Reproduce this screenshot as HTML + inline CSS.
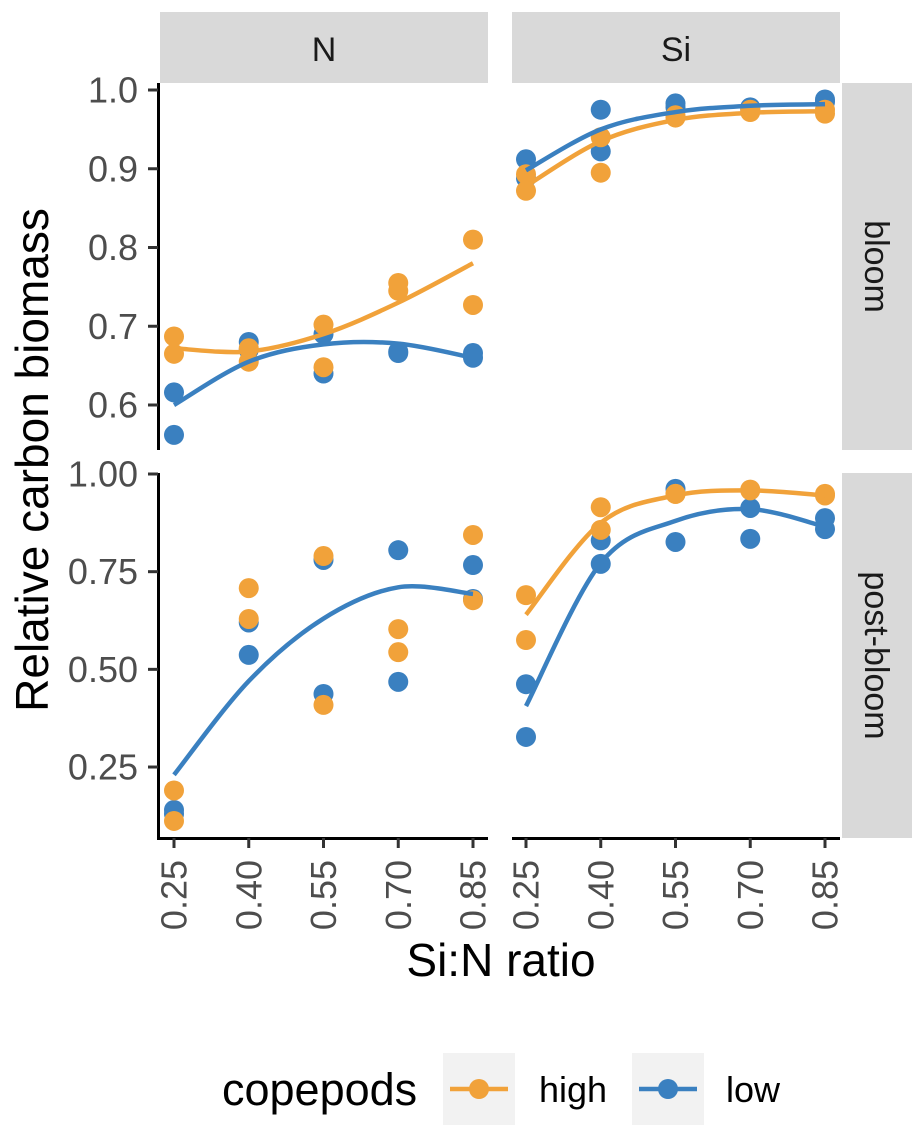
<!DOCTYPE html>
<html><head><meta charset="utf-8"><style>
html,body{margin:0;padding:0;background:#fff;}
svg{display:block;font-family:"Liberation Sans",Arial,sans-serif;}
</style></head><body>
<svg id="chart" width="924" height="1132" viewBox="0 0 924 1132" xmlns="http://www.w3.org/2000/svg">
<g id="bg"></g>
<g id="marks"></g>
<g id="axes"></g>
</svg>
<script>
// ---- data ----
const xCats = [0.25, 0.40, 0.55, 0.70, 0.85];
const xTickLabels = ["0.25","0.40","0.55","0.70","0.85"];
const topTicks = [0.6, 0.7, 0.8, 0.9, 1.0];
const topTickLabels = ["0.6","0.7","0.8","0.9","1.0"];
const botTicks = [0.25, 0.50, 0.75, 1.00];
const botTickLabels = ["0.25","0.50","0.75","1.00"];
const bloomN_high = [[0.687,0.665],[0.672,0.655],[0.702,0.648],[0.755,0.745],[0.81,0.727]];
const bloomN_low  = [[0.616,0.562],[0.68,0.67],[0.69,0.64],[0.668,0.666],[0.666,0.66]];
const bloomSi_high = [[0.893,0.872],[0.94,0.895],[0.965,0.968],[0.972,0.975],[0.97,0.975]];
const bloomSi_low  = [[0.912,0.888],[0.975,0.922],[0.983,0.978],[0.978,0.975],[0.988,0.985]];
const postN_high = [[0.19,0.112],[0.708,0.629],[0.79,0.409],[0.603,0.544],[0.844,0.677]];
const postN_low  = [[0.14,0.13],[0.62,0.537],[0.78,0.437],[0.805,0.468],[0.767,0.68]];
const postSi_high = [[0.69,0.575],[0.915,0.857],[0.949,0.949],[0.96,0.958],[0.949,0.945]];
const postSi_low  = [[0.462,0.327],[0.83,0.77],[0.962,0.826],[0.913,0.834],[0.887,0.859]];
const fitBloomN_high = [0.672,0.668,0.690,0.730,0.780];
const fitBloomN_low  = [0.600,0.655,0.677,0.678,0.660];
const fitBloomSi_high = [0.878,0.935,0.962,0.971,0.973];
const fitBloomSi_low  = [0.898,0.950,0.972,0.980,0.982];
const fitPostN_low = [0.23,0.47,0.63,0.71,0.693];
const fitPostSi_high = [0.64,0.875,0.945,0.958,0.945];
const fitPostSi_low  = [0.406,0.772,0.88,0.91,0.865];

const ORANGE="#F1A23A", BLUE="#3A80C0";
const NS="http://www.w3.org/2000/svg";
function el(tag, attrs, parent){const e=document.createElementNS(NS,tag);for(const k in attrs)e.setAttribute(k,attrs[k]);parent.appendChild(e);return e;}
const bg=document.getElementById('bg'), marks=document.getElementById('marks'), axes=document.getElementById('axes');

const cols=[{x0:160,x1:488},{x0:512,x1:840}];
const rows=[{y0:83,y1:450,vTop:1.0,yTop:90,per:787.5},{y0:473,y1:838,vTop:1.0,yTop:474,per:390.7}];
function xs(c,v){const a=c===0?174:526;return a+(v-0.25)*(299/0.6);}
function ys(r,v){return rows[r].yTop+(rows[r].vTop-v)*rows[r].per;}

["N","Si"].forEach((t,i)=>{
  const s=el('rect',{x:cols[i].x0,y:12,width:cols[i].x1-cols[i].x0,height:71,fill:"#d9d9d9"},bg);
  
  
  const tx=el('text',{x:(cols[i].x0+cols[i].x1)/2,y:61,'text-anchor':'middle','font-size':34,fill:"#1a1a1a"},bg);
  tx.textContent=t;
  
  
});
["bloom","post-bloom"].forEach((t,i)=>{
  const s=el('rect',{x:842,y:rows[i].y0,width:70,height:rows[i].y1-rows[i].y0,fill:"#d9d9d9"},bg);
  
  
  const cy=(rows[i].y0+rows[i].y1)/2;
  const tx=el('text',{x:0,y:0,'text-anchor':'middle','font-size':34,fill:"#1a1a1a",transform:`translate(865,${cy}) rotate(90)`},bg);
  tx.textContent=t;
  
  
});

function curvePath(c,r,vals){
  const P=xCats.map((x,i)=>[xs(c,x),ys(r,vals[i])]);
  let d=`M${P[0][0]},${P[0][1]}`;
  for(let i=0;i<P.length-1;i++){
    const p0=P[Math.max(0,i-1)],p1=P[i],p2=P[i+1],p3=P[Math.min(P.length-1,i+2)];
    const c1=[p1[0]+(p2[0]-p0[0])/6,p1[1]+(p2[1]-p0[1])/6];
    const c2=[p2[0]-(p3[0]-p1[0])/6,p2[1]-(p3[1]-p1[1])/6];
    d+=` C${c1[0]},${c1[1]} ${c2[0]},${c2[1]} ${p2[0]},${p2[1]}`;
  }
  return d;
}
function drawPts(c,r,data,color,name){
  data.forEach((pair,i)=>pair.forEach((v,j)=>{
    const p=el('circle',{cx:xs(c,xCats[i]),cy:ys(r,v),r:10,fill:color},marks);
    
    
  }));
}
function drawFit(c,r,vals,color,name){
  const p=el('path',{d:curvePath(c,r,vals),fill:'none',stroke:color,'stroke-width':4.5},marks);
  
  
}
drawPts(0,0,bloomN_low,BLUE,'bloom-n-low');
drawPts(0,0,bloomN_high,ORANGE,'bloom-n-high');
drawFit(0,0,fitBloomN_high,ORANGE,'bloom-n-high');
drawFit(0,0,fitBloomN_low,BLUE,'bloom-n-low');
drawPts(1,0,bloomSi_low,BLUE,'bloom-si-low');
drawPts(1,0,bloomSi_high,ORANGE,'bloom-si-high');
drawFit(1,0,fitBloomSi_high,ORANGE,'bloom-si-high');
drawFit(1,0,fitBloomSi_low,BLUE,'bloom-si-low');
drawPts(0,1,postN_low,BLUE,'post-n-low');
drawPts(0,1,postN_high,ORANGE,'post-n-high');
drawFit(0,1,fitPostN_low,BLUE,'post-n-low');
drawPts(1,1,postSi_low,BLUE,'post-si-low');
drawPts(1,1,postSi_high,ORANGE,'post-si-high');
drawFit(1,1,fitPostSi_high,ORANGE,'post-si-high');
drawFit(1,1,fitPostSi_low,BLUE,'post-si-low');

[0,1].forEach(r=>{
  const l=el('line',{x1:158.5,x2:158.5,y1:rows[r].y0,y2:rows[r].y1+(r===1?1.5:0),stroke:'#000','stroke-width':3},axes);
  
  
  const tk=r===0?topTicks:botTicks, lb=r===0?topTickLabels:botTickLabels;
  tk.forEach((v,i)=>{
    const y=ys(r,v);
    el('line',{x1:148,x2:158,y1:y,y2:y,stroke:'#333','stroke-width':3},axes);
    const t=el('text',{x:138,y:y+12.5,'text-anchor':'end','font-size':36,fill:'#4d4d4d'},axes);
    t.textContent=lb[i];
    
    
  });
});
[0,1].forEach(c=>{
  const l=el('line',{x1:c===0?157:cols[c].x0,x2:cols[c].x1,y1:838.5,y2:838.5,stroke:'#000','stroke-width':3},axes);
  
  
  xCats.forEach((v,i)=>{
    const x=xs(c,v);
    el('line',{x1:x,x2:x,y1:838,y2:848,stroke:'#333','stroke-width':3},axes);
    const t=el('text',{x:0,y:0,'text-anchor':'end','font-size':36,fill:'#4d4d4d',transform:`translate(${x+12.5},860) rotate(-90)`},axes);
    t.textContent=xTickLabels[i];
    
    
  });
});
const yt=el('text',{x:0,y:0,'text-anchor':'middle','font-size':46,fill:'#000',transform:'translate(48,460) rotate(-90)'},axes);
yt.textContent="Relative carbon biomass";


const xt=el('text',{x:501,y:976,'text-anchor':'middle','font-size':46,fill:'#000'},axes);
xt.textContent="Si:N ratio";



const lt=el('text',{x:222,y:1105,'font-size':45,fill:'#000'},axes);
lt.textContent="copepods";


[[ORANGE,"high",443,539],[BLUE,"low",632,726]].forEach(([col,lab,bx,tx])=>{
  const g=el('g',{},axes);
  
  
  el('rect',{x:bx,y:1053,width:72,height:72,fill:'#f2f2f2'},g);
  el('line',{x1:bx+7,x2:bx+65,y1:1089,y2:1089,stroke:col,'stroke-width':4.5},g);
  el('circle',{cx:bx+36,cy:1089,r:10,fill:col},g);
  const t=el('text',{x:tx,y:1102,'font-size':36,fill:'#000'},g);
  t.textContent=lab;
});
</script>
</body></html>
